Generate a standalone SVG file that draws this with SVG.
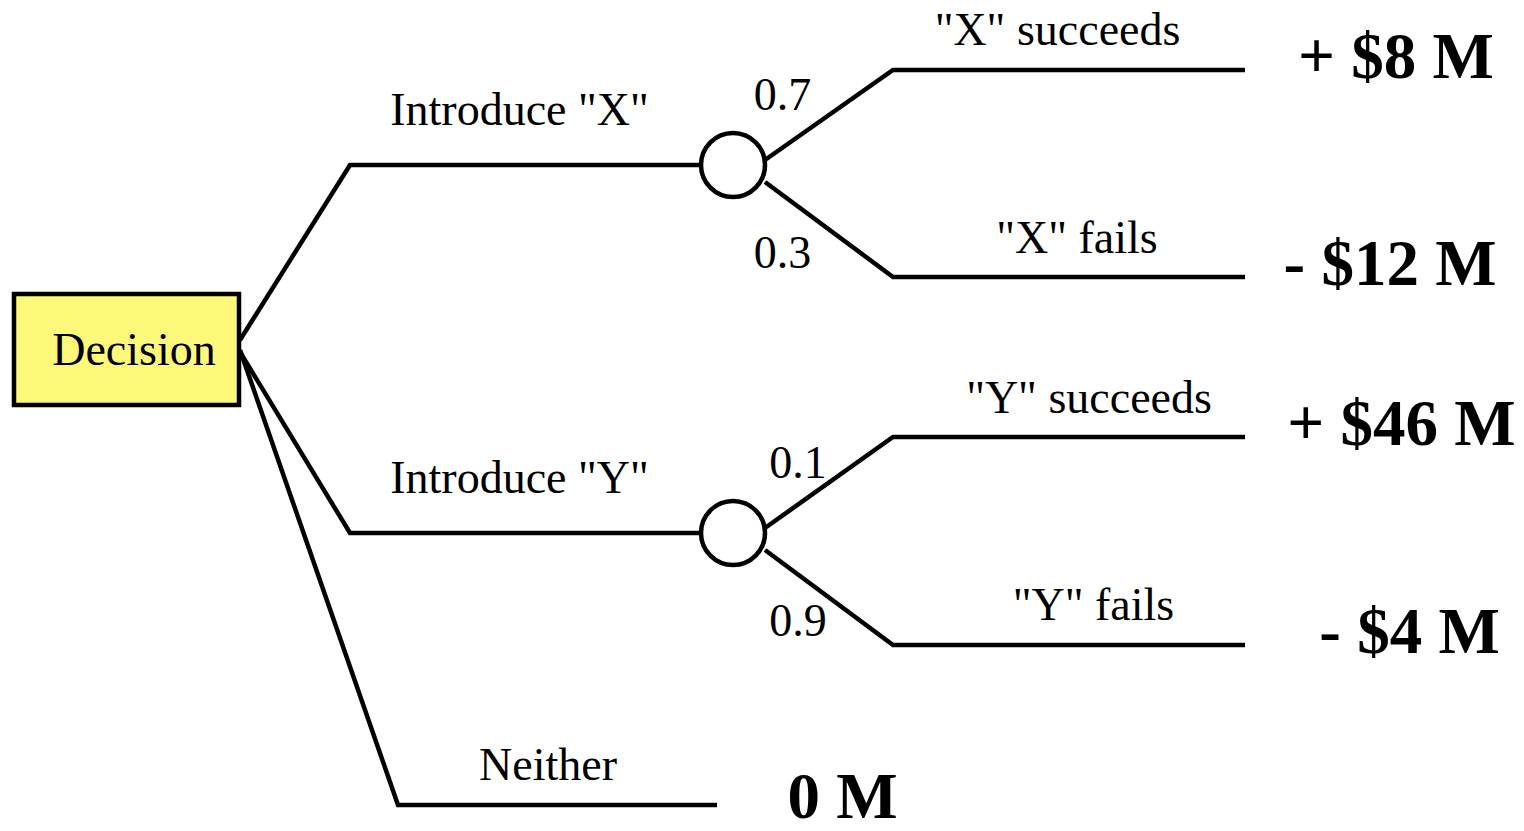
<svg xmlns="http://www.w3.org/2000/svg" width="1524" height="831" viewBox="0 0 1524 831">
<style>
.ln{fill:none;stroke:#000;stroke-width:4.5;stroke-linecap:butt;stroke-linejoin:miter}
.t{font-family:'Liberation Serif','Times New Roman','DejaVu Serif',serif;font-size:46px;fill:#000;text-anchor:middle}
.v{font-family:'Liberation Serif','Times New Roman','DejaVu Serif',serif;font-size:65px;font-weight:bold;fill:#000;text-anchor:middle}
.chance{fill:#fff;stroke:#000;stroke-width:4.5}
</style>
<rect width="1524" height="831" fill="#fff"/>
<g id="connectors">
<polyline class="ln" points="240,340 350,165 701,165"/>
<polyline class="ln" points="240,352 350,533 701,533"/>
<polyline class="ln" points="240,350 398,805 717,805"/>
<polyline class="ln" points="765,160 893,70 1245,70"/>
<polyline class="ln" points="765,182 893,277 1245,277"/>
<polyline class="ln" points="765,528 893,437 1245,437"/>
<polyline class="ln" points="765,550 893,645 1245,645"/>
</g>
<g id="decision">
<rect x="14" y="294" width="225" height="111" fill="#fdf87a" stroke="#000" stroke-width="4.5"/>
<text class="t" x="134" y="365">Decision</text>
</g>
<g id="chanceX">
<circle class="chance" cx="733" cy="165" r="32"/>
</g>
<g id="chanceY">
<circle class="chance" cx="733" cy="533" r="32"/>
</g>
<g id="labels">
<text class="t" x="519.5" y="125">Introduce "X"</text>
<text class="t" x="519.5" y="493">Introduce "Y"</text>
<text class="t" x="548" y="780">Neither</text>
<text class="t" x="782.5" y="110">0.7</text>
<text class="t" x="782.5" y="268">0.3</text>
<text class="t" x="798" y="478">0.1</text>
<text class="t" x="798" y="636">0.9</text>
<text class="t" x="1057.5" y="45">"X" succeeds</text>
<text class="t" x="1077" y="253">"X" fails</text>
<text class="t" x="1089" y="413">"Y" succeeds</text>
<text class="t" x="1093.5" y="620">"Y" fails</text>
</g>
<g id="outcomes">
<text class="v" x="1396" y="78">+ $8 M</text>
<text class="v" x="1390" y="285">- $12 M</text>
<text class="v" x="1401.5" y="445">+ $46 M</text>
<text class="v" x="1409.5" y="653">- $4 M</text>
<text class="v" x="842.5" y="818">0 M</text>
</g>
</svg>
